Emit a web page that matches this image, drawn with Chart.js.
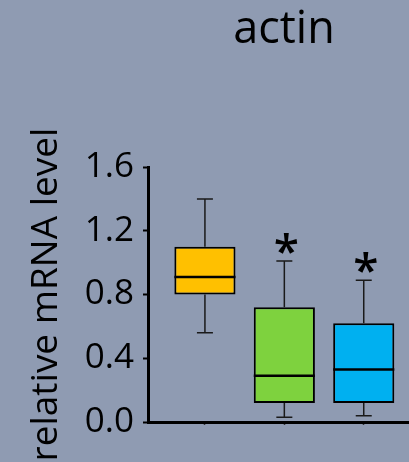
<!DOCTYPE html>
<html>
<head>
<meta charset="utf-8">
<script src="https://cdn.jsdelivr.net/npm/chart.js@4.4.0/dist/chart.umd.min.js"></script>
<style>
    html, body { margin: 0; padding: 0; background: #8f9bb2; overflow: hidden; }
    #wrap { width: 409px; height: 462px; position: relative; }
</style>
</head>
<body>
<div id="wrap"><canvas id="chart"></canvas></div>
<script>
// box plot values
const groups   = ['group 1', 'group 2', 'group 3'];
const xPos     = [1, 2, 3];
const mins     = [0.56, 0.03, 0.04];
const q1s      = [0.80, 0.12, 0.12];
const medians  = [0.91, 0.29, 0.33];
const q3s      = [1.10, 0.72, 0.62];
const maxs     = [1.40, 1.01, 0.89];
const marks    = ['', '*', '*'];
const colors   = ['#ffc000', '#7ed23e', '#00b0f0'];
const yTicks   = [0.0, 0.4, 0.8, 1.2, 1.6];

const font = 'Open Sans';

const boxExtras = {
    id: 'boxExtras',
    afterDatasetsDraw(chart) {
        const ctx = chart.ctx;
        const y = chart.scales.y;
        const meta = chart.getDatasetMeta(0);
        ctx.save();
        meta.data.forEach((bar, i) => {
            const half = bar.width / 2;
            const cx = bar.x;
            // whiskers
            ctx.strokeStyle = '#1a1a1a';
            ctx.lineWidth = 1.5;
            ctx.beginPath();
            ctx.moveTo(cx, y.getPixelForValue(q3s[i]));
            ctx.lineTo(cx, y.getPixelForValue(maxs[i]));
            ctx.moveTo(cx, y.getPixelForValue(q1s[i]));
            ctx.lineTo(cx, y.getPixelForValue(mins[i]));
            ctx.moveTo(cx - 8, y.getPixelForValue(maxs[i]));
            ctx.lineTo(cx + 8, y.getPixelForValue(maxs[i]));
            ctx.moveTo(cx - 8, y.getPixelForValue(mins[i]));
            ctx.lineTo(cx + 8, y.getPixelForValue(mins[i]));
            ctx.stroke();
            // median
            ctx.strokeStyle = '#000';
            ctx.lineWidth = 2.5;
            ctx.beginPath();
            ctx.moveTo(cx - half, y.getPixelForValue(medians[i]));
            ctx.lineTo(cx + half, y.getPixelForValue(medians[i]));
            ctx.stroke();
            // significance mark
            if (marks[i]) {
                ctx.fillStyle = '#000';
                ctx.font = '600 46px "' + font + '"';
                ctx.textAlign = 'center';
                ctx.textBaseline = 'alphabetic';
                const m = ctx.measureText(marks[i]);
                const centerY = y.getPixelForValue(maxs[i]) - 18;
                const base = centerY + (m.actualBoundingBoxAscent - m.actualBoundingBoxDescent) / 2;
                ctx.fillText(marks[i], cx + 2, base);
            }
        });
        // chart title
        ctx.fillStyle = '#000';
        ctx.font = '45px "' + font + '"';
        ctx.textAlign = 'center';
        ctx.textBaseline = 'alphabetic';
        ctx.fillText('actin', 284, 43);
        ctx.restore();
    }
};

new Chart(document.getElementById('chart'), {
    type: 'bar',
    data: {
        labels: groups,
        datasets: [{
            data: xPos.map((x, i) => ({ x: x, y: [q1s[i], q3s[i]] })),
            backgroundColor: colors,
            borderColor: '#000',
            borderWidth: 2,
            borderSkipped: false,
            categoryPercentage: 1,
            barPercentage: 0.77
        }]
    },
    options: {
        responsive: true,
        maintainAspectRatio: false,
        animation: false,
        layout: { padding: { top: 167, right: 0, bottom: 0, left: 0 } },
        plugins: { legend: { display: false }, tooltip: { enabled: false }, title: { display: false } },
        scales: {
            x: {
                type: 'linear',
                offset: false,
                min: 0.283,
                max: 3.57,
                afterBuildTicks: s => { s.ticks = xPos.map(v => ({ value: v })); },
                afterFit: s => { s.height = 40; },
                ticks: { callback: () => '' },
                grid: { offset: false, drawOnChartArea: false, drawTicks: true, tickLength: 3, tickColor: '#333', tickWidth: 1.5 },
                border: { color: '#000', width: 3 }
            },
            y: {
                min: 0,
                max: 1.6,
                afterFit: s => { s.width = 148; },
                ticks: {
                    stepSize: 0.2,
                    padding: 9,
                    color: '#000',
                    font: { family: font, size: 35 },
                    callback: v => yTicks.some(t => Math.abs(t - v) < 1e-6) ? v.toFixed(1) : ''
                },
                grid: { drawOnChartArea: false, drawTicks: true, tickLength: 5, tickColor: '#000', tickWidth: 2 },
                border: { color: '#000', width: 3 },
                title: {
                    display: true,
                    text: 'relative mRNA level',
                    color: '#000',
                    font: { family: font, size: 37 },
                    padding: { top: 24, bottom: 0 }
                }
            }
        }
    },
    plugins: [boxExtras]
});
</script>
</body>
</html>
